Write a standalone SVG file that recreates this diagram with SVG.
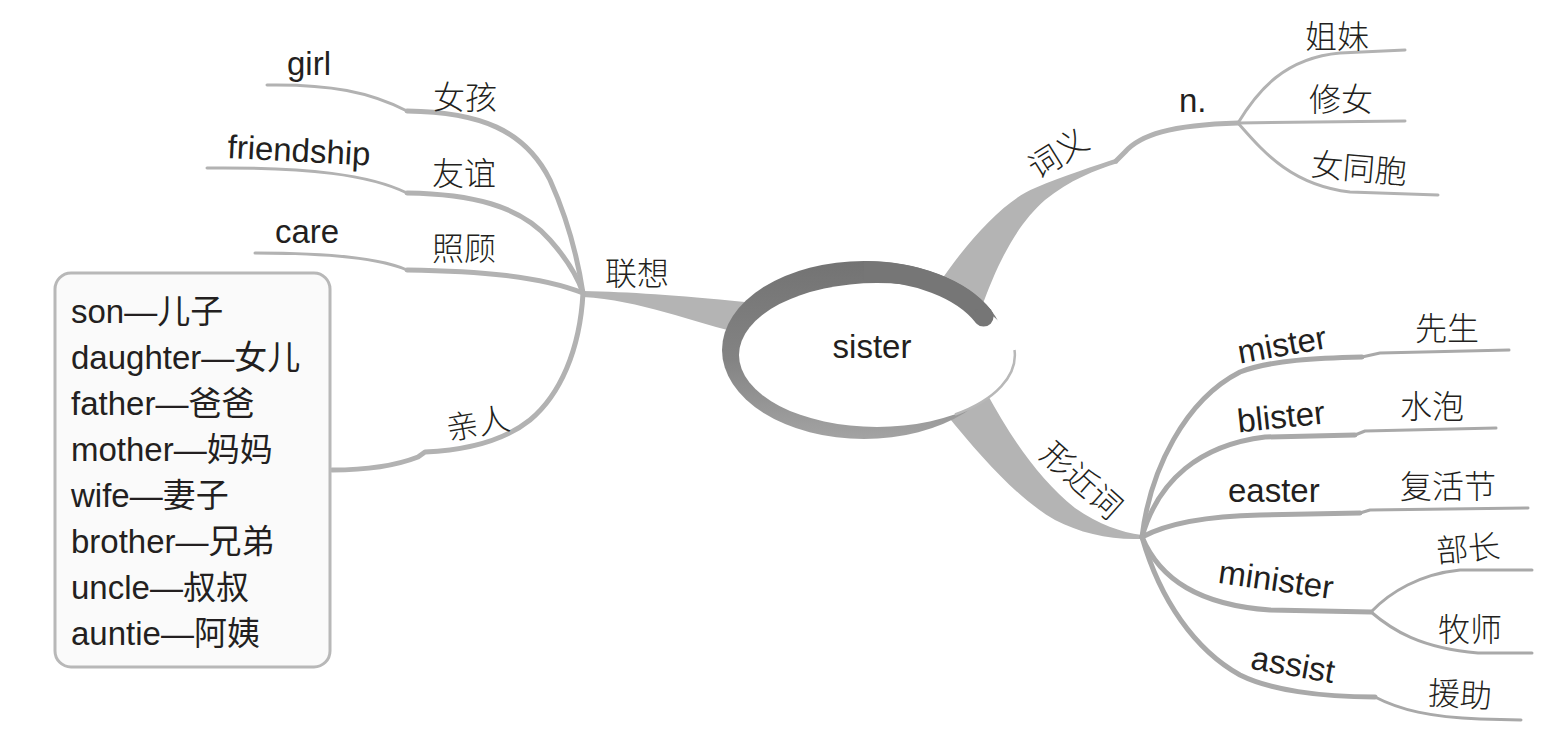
<svg xmlns="http://www.w3.org/2000/svg" width="1549" height="742" viewBox="0 0 1549 742">
<defs>
<linearGradient id="ring" x1="0" y1="0" x2="0" y2="1">
<stop offset="0" stop-color="#737373"/>
<stop offset="0.55" stop-color="#838383"/>
<stop offset="1" stop-color="#a3a3a3"/>
</linearGradient>
</defs>
<style>
.en{font-family:"Liberation Sans",Arial,"Noto Sans CJK SC",sans-serif;font-size:33px;fill:#231f20}
.zh{font-family:"Noto Sans CJK SC","Noto Sans CJK JP",sans-serif;font-size:32px;fill:#231f20;font-weight:300}
.ln{fill:none;stroke:#b2b2b2;stroke-linecap:round;stroke-linejoin:round}
.rn{fill:none;stroke:#a9a9a9;stroke-linecap:round;stroke-linejoin:round}
.br{stroke-width:5}
.lf{stroke-width:3}
.band{fill:#b4b4b4}
</style>
<rect width="1549" height="742" fill="#ffffff"/>

<g id="connectors">
<!-- left -->
<path class="band" d="M583,291 C630,292 675,295 745,302 L748,335 C690,322 640,300 583,297 Z"/>
<path class="ln lf" d="M267,85 C330,84 370,92 407,111"/>
<path class="ln br" d="M407,111 C480,112 525,130 550,180 C568,220 578,260 583,293"/>
<path class="ln lf" d="M207,168 C310,167 370,175 407,193"/>
<path class="ln br" d="M407,193 C470,194 520,205 550,240 C566,258 578,278 583,293"/>
<path class="ln lf" d="M255,253 C330,253 380,258 407,270"/>
<path class="ln br" d="M407,270 C480,271 540,276 583,293"/>
<path class="ln br" d="M583,293 C580,350 560,395 530,420 C505,440 470,450 425,452 L418,457 C395,466 370,470 332,470"/>
<!-- right top -->
<path class="band" d="M938,285 C968,240 1005,200 1035,188 C1065,175 1095,166 1118,158 L1118,163 C1095,170 1070,180 1045,200 C1020,222 1000,255 980,312 Z"/>
<path class="ln br" d="M1116,161 L1125,152 C1140,135 1170,125 1238,123"/>
<path class="ln lf" d="M1238,123 C1258,90 1285,58 1340,53 L1405,50"/>
<path class="ln lf" d="M1238,123 L1405,121"/>
<path class="ln lf" d="M1238,123 C1262,150 1290,185 1350,192 L1438,195"/>
<!-- right bottom -->
<path class="band" d="M985,390 C1012,440 1040,480 1075,508 C1100,525 1120,532 1142,535 L1140,539 C1110,540 1080,533 1055,520 C1020,500 985,462 946,414 Z"/>
<path class="rn br" d="M1142,537 C1150,470 1185,400 1240,372 C1270,360 1320,358 1362,357"/>
<path class="rn lf" d="M1362,357 L1380,353 L1509,350"/>
<path class="rn br" d="M1142,537 C1158,480 1200,445 1265,437 L1355,435"/>
<path class="rn lf" d="M1355,435 L1365,431 L1496,428"/>
<path class="rn br" d="M1142,537 C1170,522 1210,516 1260,515 L1360,513"/>
<path class="rn lf" d="M1360,513 L1370,510 L1528,508"/>
<path class="rn br" d="M1142,537 C1160,580 1200,605 1270,610 L1371,612"/>
<path class="rn lf" d="M1371,612 C1390,592 1420,574 1460,570 L1532,570"/>
<path class="rn lf" d="M1371,612 C1392,630 1420,648 1478,653 L1532,653"/>
<path class="rn br" d="M1142,537 C1160,600 1195,650 1240,675 C1270,690 1320,697 1375,697"/>
<path class="rn lf" d="M1375,697 C1400,710 1430,717 1480,719 L1521,720"/>
</g>

<g id="center">
<ellipse cx="864" cy="350" rx="142" ry="89" fill="url(#ring)"/>
<ellipse cx="877" cy="355" rx="138" ry="72" fill="#ffffff"/>
<path d="M1014.5,350 A138,72 0 0 1 955,414.5" fill="none" stroke="#b8b8b8" stroke-width="2.5"/>
<path d="M864,271 A132,79 0 0 1 983.6,316.6" fill="none" stroke="#767676" stroke-width="20" stroke-linecap="butt"/>
<circle cx="983.6" cy="316.6" r="10" fill="#767676"/>
<text class="en" x="872" y="358" text-anchor="middle">sister</text>
</g>

<g id="n-lianxiang"><text class="zh" x="605" y="285">联想</text></g>
<g id="n-nvhai"><text class="zh" x="433" y="109">女孩</text></g>
<g id="n-girl"><text class="en" x="287" y="75">girl</text></g>
<g id="n-youyi"><text class="zh" x="432" y="185">友谊</text></g>
<g id="n-friendship"><text class="en" x="227" y="158" transform="rotate(3 227 158)">friendship</text></g>
<g id="n-zhaogu"><text class="zh" x="432" y="260">照顾</text></g>
<g id="n-care"><text class="en" x="275" y="243">care</text></g>
<g id="n-qinren"><text class="zh" text-anchor="middle" y="12" transform="translate(478,423) rotate(-10)">亲人</text></g>

<g id="n-family">
<rect x="55" y="273" width="275" height="394" rx="16" fill="#fafafa" stroke="#b8b8b8" stroke-width="3"/>
<text class="en" x="71" y="323">son—儿子</text>
<text class="en" x="71" y="369">daughter—女儿</text>
<text class="en" x="71" y="415">father—爸爸</text>
<text class="en" x="71" y="461">mother—妈妈</text>
<text class="en" x="71" y="507">wife—妻子</text>
<text class="en" x="71" y="553">brother—兄弟</text>
<text class="en" x="71" y="599">uncle—叔叔</text>
<text class="en" x="71" y="645">auntie—阿姨</text>
</g>

<g id="n-ciyi"><text class="zh" text-anchor="middle" y="12" transform="translate(1058,153) rotate(-32)">词义</text></g>
<g id="n-n"><text class="en" x="1179" y="112">n.</text></g>
<g id="n-jiemei"><text class="zh" x="1305" y="48">姐妹</text></g>
<g id="n-xiunv"><text class="zh" x="1309" y="111">修女</text></g>
<g id="n-nvtongbao"><text class="zh" text-anchor="middle" y="12" transform="translate(1359,168) rotate(5)">女同胞</text></g>

<g id="n-xingjinci"><text class="zh" text-anchor="middle" y="12" transform="translate(1082,480) rotate(42)">形近词</text></g>
<g id="n-mister"><text class="en" text-anchor="middle" y="11" transform="translate(1282,345) rotate(-10)">mister</text></g>
<g id="n-xiansheng"><text class="zh" x="1415" y="340">先生</text></g>
<g id="n-blister"><text class="en" text-anchor="middle" y="11" transform="translate(1281,417) rotate(-6)">blister</text></g>
<g id="n-shuipao"><text class="zh" x="1400" y="418">水泡</text></g>
<g id="n-easter"><text class="en" x="1228" y="502">easter</text></g>
<g id="n-fuhuojie"><text class="zh" x="1400" y="498">复活节</text></g>
<g id="n-minister"><text class="en" text-anchor="middle" y="11" transform="translate(1276,580) rotate(8)">minister</text></g>
<g id="n-buzhang"><text class="zh" text-anchor="middle" y="12" transform="translate(1468,548) rotate(-5)">部长</text></g>
<g id="n-mushi"><text class="zh" x="1438" y="641">牧师</text></g>
<g id="n-assist"><text class="en" text-anchor="middle" y="11" transform="translate(1293,665) rotate(10)">assist</text></g>
<g id="n-yuanzhu"><text class="zh" text-anchor="middle" y="12" transform="translate(1460,694) rotate(3)">援助</text></g>
</svg>
